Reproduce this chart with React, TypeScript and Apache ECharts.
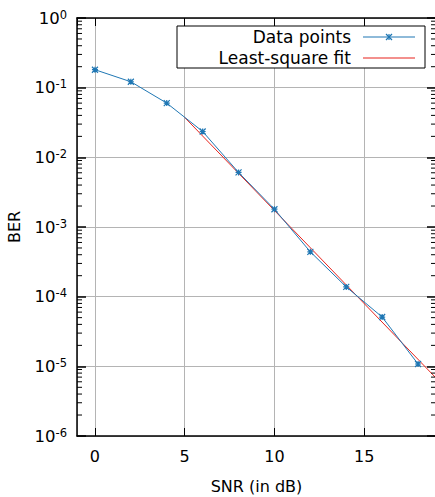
import React, { useEffect, useRef } from 'react';
import * as echarts from 'echarts';

const snr = [0, 2, 4, 6, 8, 10, 12, 14, 16, 18];
const ber = [0.181, 0.1216, 0.06, 0.0235, 0.00607, 0.0018, 0.00044, 0.000138, 5.1e-5, 1.08e-5];
const fitSnr = [5, 19];
const fitBer = [0.0374, 6.8e-6];
const legendLabels = ['Data points', 'Least-square fit'];
const xLabel = 'SNR (in dB)';
const yLabel = 'BER';
const decades = [-6, -5, -4, -3, -2, -1];
const minorMultipliers = [2, 3, 4, 5, 6, 7, 8, 9];

const FONT = 'DejaVu Sans';
const BLUE = '#1f77b4';
const RED = '#e8231c';

export default function App() {
  const ref = useRef<HTMLDivElement>(null);
  useEffect(() => {
    const chart = echarts.init(ref.current!, null, { renderer: 'svg' });
    const xMin = -1, xMax = 19;
    const axisLine = { show: true, onZero: false, lineStyle: { color: '#000', width: 1.5 } };
    const option: any = {
      animation: false,
      backgroundColor: '#fff',
      grid: { left: 77, right: -1, top: 18, bottom: 61, containLabel: false, outerBoundsMode: 'none' },
      xAxis: [
        {
          type: 'value', min: xMin, max: xMax, position: 'bottom',
          axisLine,
          axisTick: { show: true, inside: true, length: 8, lineStyle: { color: '#000', width: 1 } },
          axisLabel: { show: true, showMinLabel: false, showMaxLabel: false, color: '#000', fontSize: 16, fontFamily: FONT, margin: 12 },
          splitLine: { show: true, lineStyle: { color: '#b4b4b4', width: 1 } },
          name: xLabel, nameLocation: 'middle', nameGap: 42,
          nameTextStyle: { color: '#000', fontSize: 16, fontFamily: FONT },
        },
        {
          type: 'value', min: xMin, max: xMax, position: 'top',
          axisLine,
          axisTick: { show: true, inside: true, length: 8, lineStyle: { color: '#000', width: 1 } },
          axisLabel: { show: false },
          splitLine: { show: false },
        },
      ],
      yAxis: [
        {
          type: 'log', logBase: 10, min: 1e-6, max: 1, position: 'left',
          axisLine,
          axisTick: { show: true, inside: true, length: 9, lineStyle: { color: '#000', width: 1.5 } },
          axisLabel: {
            show: true, margin: 10, color: '#000',
            formatter: (v: number) => `{b|10}{s|${Math.round(Math.log10(v))}}`,
            rich: {
              b: { fontSize: 16.5, fontFamily: FONT, color: '#000' },
              s: { fontSize: 11.5, fontFamily: FONT, color: '#000', padding: [0, 0, 7, 0] },
            },
          },
          splitLine: { show: true, lineStyle: { color: '#b4b4b4', width: 1 } },
          name: yLabel, nameLocation: 'middle', nameGap: 55,
          nameTextStyle: { color: '#000', fontSize: 16, fontFamily: FONT },
        },
        {
          type: 'log', logBase: 10, min: 1e-6, max: 1, position: 'right',
          axisLine,
          axisTick: { show: true, inside: true, length: 9, lineStyle: { color: '#000', width: 1.5 } },
          axisLabel: { show: false },
          splitLine: { show: false },
        },
      ],
      series: [
        {
          name: legendLabels[0], type: 'line',
          data: snr.map((x, i) => [x, ber[i]]),
          lineStyle: { color: BLUE, width: 1 },
          itemStyle: { color: BLUE, borderColor: BLUE, borderWidth: 1.2 },
          symbol: 'path://M0 0L10 10M10 0L0 10M5 0L5 10M0 5L10 5',
          symbolSize: 6,
          z: 3,
        },
        {
          name: legendLabels[1], type: 'line',
          data: fitSnr.map((x, i) => [x, fitBer[i]]),
          lineStyle: { color: RED, width: 1 },
          symbol: 'none',
          z: 2,
        },
      ],
    };
    chart.setOption(option);

    const xl = chart.convertToPixel({ xAxisIndex: 0 }, xMin) as number;
    const xr = chart.convertToPixel({ xAxisIndex: 0 }, xMax) as number;
    const graphics: any[] = [];
    decades.forEach((d) => {
      minorMultipliers.forEach((m) => {
        const y = chart.convertToPixel({ yAxisIndex: 0 }, m * Math.pow(10, d)) as number;
        graphics.push({ type: 'line', shape: { x1: xl, y1: y, x2: xl + 5, y2: y }, style: { stroke: '#000', lineWidth: 1 }, z: 5 });
        graphics.push({ type: 'line', shape: { x1: xr, y1: y, x2: xr - 5, y2: y }, style: { stroke: '#000', lineWidth: 1 }, z: 5 });
      });
    });
    // legend
    const lx = 177, ly = 26, lw = 248, lh = 42;
    const rows = [37, 58];
    graphics.push({ type: 'rect', shape: { x: lx, y: ly, width: lw, height: lh }, style: { fill: '#fff', stroke: '#000', lineWidth: 1 }, z: 20 });
    legendLabels.forEach((t, i) => {
      graphics.push({ type: 'text', x: 351, y: rows[i], style: { text: t, align: 'right', verticalAlign: 'middle', fontSize: 17, fontFamily: FONT, fill: '#000' }, z: 21 });
      graphics.push({ type: 'line', shape: { x1: 363, y1: rows[i], x2: 415, y2: rows[i] }, style: { stroke: i === 0 ? BLUE : RED, lineWidth: 1.2 }, z: 21 });
    });
    const mx = 389, my = rows[0];
    graphics.push({ type: 'line', shape: { x1: mx - 3, y1: my - 3, x2: mx + 3, y2: my + 3 }, style: { stroke: BLUE, lineWidth: 1.2 }, z: 22 });
    graphics.push({ type: 'line', shape: { x1: mx + 3, y1: my - 3, x2: mx - 3, y2: my + 3 }, style: { stroke: BLUE, lineWidth: 1.2 }, z: 22 });
    graphics.push({ type: 'line', shape: { x1: mx, y1: my - 3, x2: mx, y2: my + 3 }, style: { stroke: BLUE, lineWidth: 1.2 }, z: 22 });
    chart.setOption({ graphic: graphics });

    return () => chart.dispose();
  }, []);
  return <div ref={ref} style={{ position: 'fixed', left: 0, top: 0, width: 435, height: 497, background: '#fff' }} />;
}
